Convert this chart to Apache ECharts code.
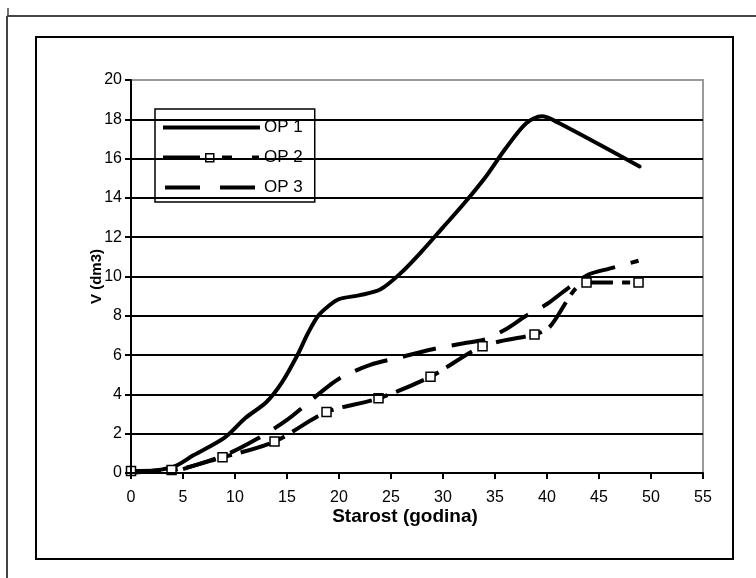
<!DOCTYPE html>
<html>
<head>
<meta charset="utf-8">
<script src="https://cdn.jsdelivr.net/npm/echarts@6/dist/echarts.min.js"></script>
<style>
html,body{margin:0;padding:0;background:#fff;}
#c{width:756px;height:578px;}
</style>
</head>
<body>
<div id="c"></div>
<script>
// Data
var seriesNames = ['OP 1', 'OP 2', 'OP 3'];
var xTicks = [0, 5, 10, 15, 20, 25, 30, 35, 40, 45, 50, 55];
var yTicks = [0, 2, 4, 6, 8, 10, 12, 14, 16, 18, 20];

var op1X = [0, 4, 6, 9, 11, 13, 14.5, 16, 17, 18, 19, 20, 22, 24, 26, 28, 30, 32, 34, 36, 38, 39.5, 41, 48.9];
var op1Y = [0, 0.3, 0.9, 1.8, 2.8, 3.6, 4.6, 6.0, 7.1, 8.0, 8.5, 8.85, 9.05, 9.35, 10.2, 11.3, 12.5, 13.7, 15.0, 16.5, 17.8, 18.15, 17.85, 15.6];

var op2X = [0, 3.9, 8.8, 13.8, 18.8, 23.8, 28.8, 33.8, 38.8, 40.2, 43.8, 48.8];
var op2Y = [0.1, 0.15, 0.8, 1.6, 3.1, 3.8, 4.9, 6.45, 7.05, 7.4, 9.7, 9.7];
var op2Marked = [true, true, true, true, true, true, true, true, true, false, true, true];

var op3X = [5, 9, 12, 15, 18, 20, 23, 26, 29, 32, 34, 36, 38, 40, 42, 44, 46, 48.8];
var op3Y = [0.2, 0.9, 1.7, 2.7, 4.0, 4.8, 5.5, 5.9, 6.3, 6.6, 6.8, 7.3, 8.0, 8.6, 9.4, 10.1, 10.4, 10.8];

function pairs(xs, ys) { return xs.map(function (x, i) { return [x, ys[i]]; }); }
var op2Data = op2X.map(function (x, i) {
  return op2Marked[i] ? { value: [x, op2Y[i]] } : { value: [x, op2Y[i]], symbol: 'none' };
});

// legend sample icons (97 x 14 box; tiny corner specks fix the bounding box)
var corners = 'M0,0h0.01v0.01h-0.01Z M96.99,13.99h0.01v0.01h-0.01Z ';
var iconOP1 = 'path://' + corners + 'M0,5H97V9H0Z';
var iconOP2 = 'path://' + corners + 'M0,5H37V9H0Z M42,2.5H51.5V12H42Z M43.5,4V10.5H50V4Z M59,5H69V9H59Z M89,5H96V9H89Z';
var iconOP3 = 'path://' + corners + 'M2,5H37V9H2Z M57,5H92V9H57Z';

var chart = echarts.init(document.getElementById('c'), null, { renderer: 'canvas' });
var font = 'Liberation Sans, Arial, sans-serif';
var splitColors = yTicks.map(function (v, i) { return i === yTicks.length - 1 ? '#9a9a9a' : '#000'; });
var legendItemStyle = { color: '#000', borderWidth: 0 };

chart.setOption({
  backgroundColor: '#fff',
  animation: false,
  textStyle: { fontFamily: font },
  graphic: [
    { type: 'line', shape: { x1: 7, y1: 16, x2: 756, y2: 16 }, style: { stroke: '#444', lineWidth: 2 } },
    { type: 'line', shape: { x1: 7, y1: 16, x2: 7, y2: 578 }, style: { stroke: '#444', lineWidth: 2 } },
    { type: 'line', shape: { x1: 8, y1: 8, x2: 8, y2: 16 }, style: { stroke: '#444', lineWidth: 1.5 } },
    { type: 'rect', shape: { x: 36, y: 37, width: 697, height: 522 }, style: { fill: 'none', stroke: '#000', lineWidth: 2 } }
  ],
  grid: {
    left: 131, right: 53, top: 80, bottom: 105,
    show: true, borderColor: '#9a9a9a', borderWidth: 2, backgroundColor: 'transparent'
  },
  legend: {
    orient: 'vertical',
    left: 155, top: 109,
    padding: [10, 12, 6, 8],
    itemWidth: 97, itemHeight: 14, itemGap: 13,
    symbolKeepAspect: false,
    backgroundColor: '#fff',
    borderColor: '#000', borderWidth: 1.5, borderRadius: 0,
    textStyle: { fontSize: 17, color: '#000', fontFamily: font, padding: [0, 0, 0, -1] },
    data: [
      { name: seriesNames[0], icon: iconOP1, itemStyle: legendItemStyle },
      { name: seriesNames[1], icon: iconOP2, itemStyle: legendItemStyle },
      { name: seriesNames[2], icon: iconOP3, itemStyle: legendItemStyle }
    ]
  },
  xAxis: {
    type: 'value', min: 0, max: 55, interval: 5,
    name: 'Starost (godina)', nameLocation: 'middle', nameGap: 34, nameMoveOverlap: false,
    nameTextStyle: { fontSize: 19, fontWeight: 'bold', color: '#000', verticalAlign: 'top', padding: [0, 24, 0, 0] },
    axisLine: { show: true, onZero: false, lineStyle: { color: '#000', width: 2 } },
    axisTick: { show: true, length: 6, lineStyle: { color: '#000', width: 2 } },
    axisLabel: { fontSize: 16, color: '#000', margin: 17,
      formatter: function (v) { return xTicks.indexOf(v) >= 0 ? String(v) : ''; } },
    splitLine: { show: false },
    z: 5
  },
  yAxis: {
    type: 'value', min: 0, max: 20, interval: 2,
    name: 'V (dm3)', nameLocation: 'middle', nameGap: 27, nameRotate: 90, nameMoveOverlap: false,
    nameTextStyle: { fontSize: 15, fontWeight: 'bold', color: '#000' },
    axisLine: { show: true, lineStyle: { color: '#000', width: 2 } },
    axisTick: { show: true, length: 6, lineStyle: { color: '#000', width: 2 } },
    axisLabel: { fontSize: 16, color: '#000', margin: 9,
      formatter: function (v) { return yTicks.indexOf(v) >= 0 ? String(v) : ''; } },
    splitLine: { show: true, lineStyle: { color: splitColors, width: 2 } },
    z: 5
  },
  series: [
    {
      name: seriesNames[0], type: 'line', data: pairs(op1X, op1Y),
      smooth: 0.3, showSymbol: false, symbol: 'none',
      lineStyle: { color: '#000', width: 4, type: 'solid', cap: 'round', join: 'round' },
      itemStyle: { color: '#000' }, z: 3
    },
    {
      name: seriesNames[1], type: 'line', data: op2Data,
      smooth: 0.3, symbol: 'rect', symbolSize: 9, showSymbol: true,
      lineStyle: { color: '#000', width: 4, type: [30, 9, 8, 9] },
      itemStyle: { color: '#fff', borderColor: '#000', borderWidth: 1.5 }, z: 4
    },
    {
      name: seriesNames[2], type: 'line', data: pairs(op3X, op3Y),
      smooth: 0.3, showSymbol: false, symbol: 'none',
      lineStyle: { color: '#000', width: 4, type: [34, 16] },
      itemStyle: { color: '#000' }, z: 3
    }
  ]
});
</script>
</body>
</html>
